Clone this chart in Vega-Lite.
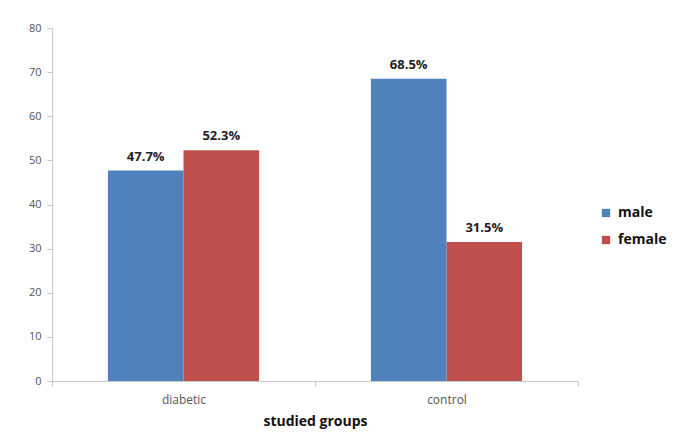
{
  "$schema": "https://vega.github.io/schema/vega-lite/v6.json",
  "width": 526,
  "height": 353,
  "autosize": "none",
  "padding": {"left": 52, "top": 28, "right": 101, "bottom": 62},
  "background": "white",
  "config": {
    "view": {"stroke": null},
    "font": "Open Sans"
  },
  "data": {
    "values": [
      {"group": "diabetic", "sex": "male", "value": 47.7, "label": "47.7%"},
      {"group": "diabetic", "sex": "female", "value": 52.3, "label": "52.3%"},
      {"group": "control", "sex": "male", "value": 68.5, "label": "68.5%"},
      {"group": "control", "sex": "female", "value": 31.5, "label": "31.5%"}
    ]
  },
  "encoding": {
    "x": {
      "field": "group",
      "type": "nominal",
      "sort": ["diabetic", "control"],
      "scale": {"paddingInner": 0, "paddingOuter": 0},
      "axis": {
        "title": "studied groups",
        "titleFont": "Open Sans",
        "titleFontSize": 14,
        "titleFontWeight": "bold",
        "titleColor": "#111",
        "titlePadding": 9,
        "labelAngle": 0,
        "labelFontSize": 12,
        "labelColor": "#555",
        "labelPadding": 8,
        "domainColor": "#c8c8c8",
        "tickColor": "#c8c8c8",
        "tickBand": "extent",
        "tickSize": 5,
        "grid": false
      }
    },
    "xOffset": {
      "field": "sex",
      "type": "nominal",
      "sort": ["male", "female"],
      "scale": {"paddingInner": 0, "paddingOuter": 0.74}
    },
    "y": {
      "field": "value",
      "type": "quantitative",
      "scale": {"domain": [0, 80]},
      "axis": {
        "title": null,
        "values": [0, 10, 20, 30, 40, 50, 60, 70, 80],
        "labelFontSize": 11,
        "labelColor": "#555",
        "labelPadding": 6,
        "domainColor": "#c8c8c8",
        "tickColor": "#c8c8c8",
        "tickSize": 5,
        "grid": false
      }
    }
  },
  "layer": [
    {
      "mark": {"type": "bar"},
      "encoding": {
        "color": {
          "field": "sex",
          "type": "nominal",
          "sort": ["male", "female"],
          "scale": {"domain": ["male", "female"], "range": ["#4F81BD", "#C0504D"]},
          "legend": {
            "title": null,
            "orient": "none",
            "legendX": 547,
            "legendY": 178,
            "symbolType": "square",
            "symbolSize": 70,
            "symbolStrokeWidth": 0,
            "labelFontSize": 14,
            "labelFontWeight": "bold",
            "labelColor": "#111",
            "rowPadding": 13,
            "labelOffset": 5
          }
        }
      }
    },
    {
      "mark": {"type": "text", "dy": -14, "fontSize": 13, "fontWeight": "bold", "color": "#222"},
      "encoding": {
        "text": {"field": "label"}
      }
    }
  ]
}
